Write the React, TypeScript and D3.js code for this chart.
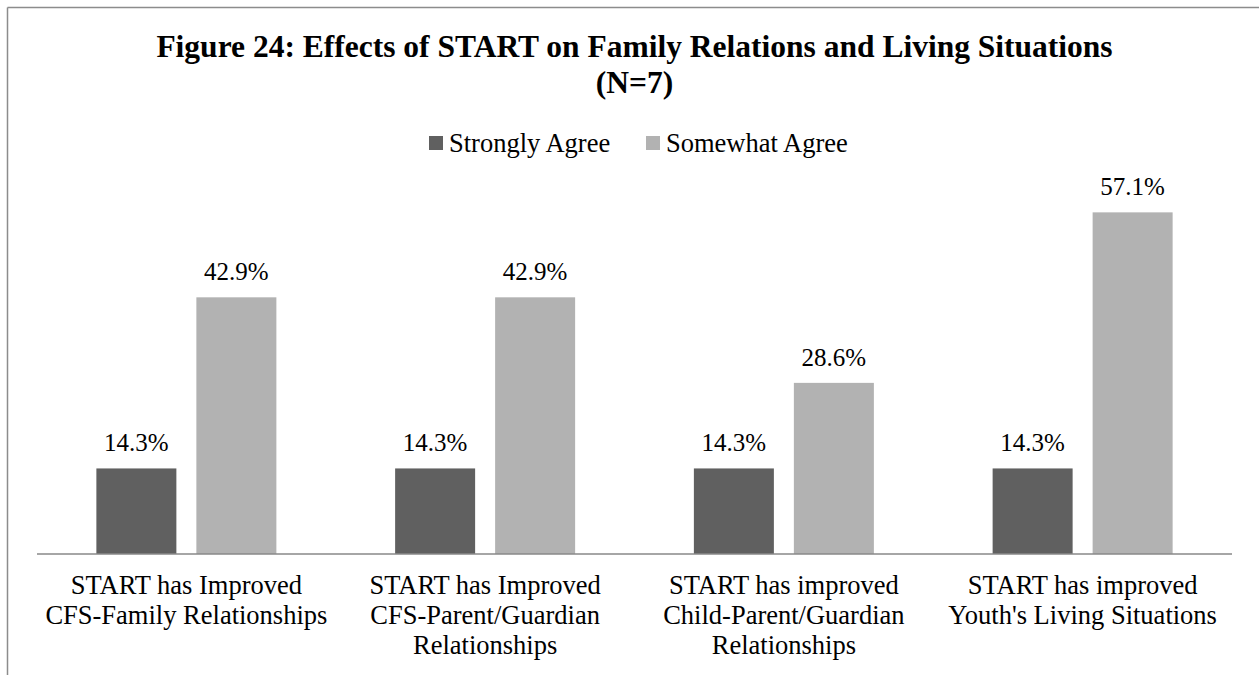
import React from "react";
import * as d3 from "d3";

const categories: string[][] = [
  ["START has Improved", "CFS-Family Relationships"],
  ["START has Improved", "CFS-Parent/Guardian", "Relationships"],
  ["START has improved", "Child-Parent/Guardian", "Relationships"],
  ["START has improved", "Youth's Living Situations"],
];
const seriesNames = ["Strongly Agree", "Somewhat Agree"];
const stronglyAgree = [14.3, 14.3, 14.3, 14.3];
const somewhatAgree = [42.9, 42.9, 28.6, 57.1];
const seriesColors = ["#606060", "#b2b2b2"];
const titleLines = [
  "Figure 24: Effects of START on Family Relations and Living Situations",
  "(N=7)",
];

const W = 1259;
const H = 675;
const FONT = "'Liberation Serif', 'Times New Roman', serif";

export default function App() {
  const values = [stronglyAgree, somewhatAgree];
  const left = 37;
  const right = 1232;
  const baseY = 554;

  const x0 = d3
    .scaleBand<number>()
    .domain(categories.map((_, i) => i))
    .range([left, right])
    .paddingInner(0.3975)
    .paddingOuter(0.19875);
  const x1 = d3
    .scaleBand<number>()
    .domain(seriesNames.map((_, i) => i))
    .range([0, x0.bandwidth()])
    .paddingInner(0.2)
    .paddingOuter(0);
  const y = d3.scaleLinear().domain([0, 60]).range([baseY, 195]);

  return (
    <div style={{ position: "fixed", left: 0, top: 0 }}>
      <svg width={W} height={H} style={{ display: "block", background: "#fff" }}>
        <rect x={0} y={0} width={W} height={H} fill="#fff" />
        {/* frame */}
        <line x1={7.5} y1={7.5} x2={W} y2={7.5} stroke="#8c8c8c" strokeWidth={1.5} />
        <line x1={7.5} y1={7.5} x2={7.5} y2={H} stroke="#8c8c8c" strokeWidth={1.5} />

        {/* title */}
        <text
          x={634.5}
          y={57}
          textAnchor="middle"
          fontFamily={FONT}
          fontWeight="bold"
          fontSize={31.5}
          fill="#000"
        >
          {titleLines[0]}
        </text>
        <text
          x={634.5}
          y={93}
          textAnchor="middle"
          fontFamily={FONT}
          fontWeight="bold"
          fontSize={31.5}
          fill="#000"
        >
          {titleLines[1]}
        </text>

        {/* legend */}
        {seriesNames.map((name, i) => {
          const lx = i === 0 ? 429 : 646;
          return (
            <g key={name}>
              <rect x={lx} y={136} width={14} height={14} fill={seriesColors[i]} />
              <text x={lx + 20} y={152} fontFamily={FONT} fontSize={26.5} fill="#000">
                {name}
              </text>
            </g>
          );
        })}

        {/* bars */}
        {categories.map((_, ci) => (
          <g key={ci} transform={`translate(${x0(ci)},0)`}>
            {values.map((vals, si) => {
              const v = vals[ci];
              const bx = x1(si)!;
              const bw = x1.bandwidth();
              return (
                <g key={si}>
                  <rect
                    x={bx}
                    y={y(v)}
                    width={bw}
                    height={baseY - y(v)}
                    fill={seriesColors[si]}
                  />
                  <text
                    x={bx + bw / 2}
                    y={y(v) - 17}
                    textAnchor="middle"
                    fontFamily={FONT}
                    fontSize={25}
                    fill="#000"
                  >
                    {v.toFixed(1)}%
                  </text>
                </g>
              );
            })}
          </g>
        ))}

        {/* axis */}
        <line x1={left} y1={baseY} x2={right} y2={baseY} stroke="#898989" strokeWidth={1.5} />

        {/* category labels */}
        {categories.map((lines, ci) => (
          <text
            key={ci}
            x={x0(ci)! + x0.bandwidth() / 2}
            textAnchor="middle"
            fontFamily={FONT}
            fontSize={26.5}
            fill="#000"
          >
            {lines.map((ln, li) => (
              <tspan key={li} x={x0(ci)! + x0.bandwidth() / 2} y={594 + li * 30}>
                {ln}
              </tspan>
            ))}
          </text>
        ))}
      </svg>
    </div>
  );
}
